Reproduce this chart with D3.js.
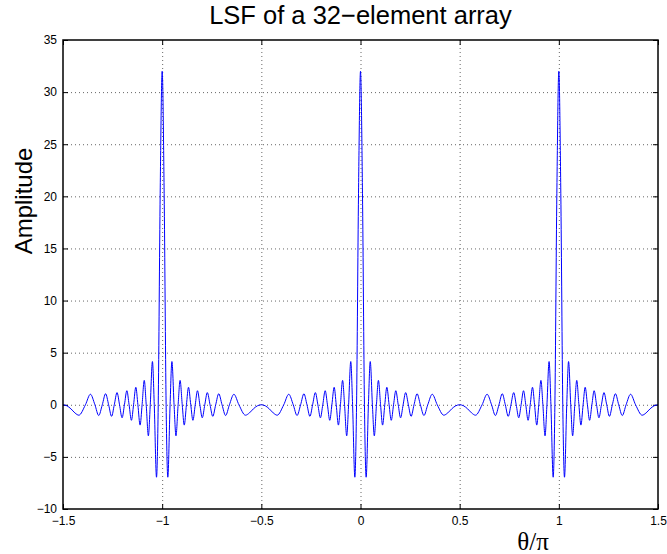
<!DOCTYPE html>
<html>
<head>
<meta charset="utf-8">
<script src="https://cdn.jsdelivr.net/npm/d3@7"></script>
<style>
  body { margin: 0; background: #fff; }
  svg { display: block; }
  .tick text { font-family: "Liberation Sans", Arial, sans-serif; font-size: 12px; fill: #000; }
</style>
</head>
<body>
<div id="chart"></div>
<script>
// ---- data (theta/pi, amplitude)
const thetaOverPi = [
  -1.5, -1.48, -1.46, -1.44, -1.42, -1.3869, -1.3617, -1.3391, -1.3199, -1.3019, -1.2852, -1.2699, -1.255, -1.2414, -1.2276, -1.2149, -1.2021, -1.1902, -1.178, -1.1667, -1.155, -1.1442, -1.1328, -1.1224, -1.1113, -1.1012, -1.0903, -1.0804, -1.0696, -1.06, -1.0491, -1.0399, -1.0285, -1.0199, -1.01, -1,
  -0.99, -0.9801, -0.9715, -0.9601, -0.9509, -0.94, -0.9304, -0.9196, -0.9097, -0.8988, -0.8887, -0.8776, -0.8672, -0.8558, -0.845, -0.8333, -0.822, -0.8098, -0.7979, -0.7851, -0.7724, -0.7586, -0.745, -0.7301, -0.7148, -0.6981, -0.6801, -0.6609, -0.6383, -0.6131, -0.58, -0.56, -0.54, -0.52, -0.5,
  -0.48, -0.46, -0.44, -0.42, -0.3869, -0.3617, -0.3391, -0.3199, -0.3019, -0.2852, -0.2699, -0.255, -0.2414, -0.2276, -0.2149, -0.2021, -0.1902, -0.178, -0.1667, -0.155, -0.1442, -0.1328, -0.1224, -0.1113, -0.1012, -0.0903, -0.0804, -0.0696, -0.06, -0.0491, -0.0399, -0.0285, -0.0199, -0.01, 0,
  0.01, 0.0199, 0.0285, 0.0399, 0.0491, 0.06, 0.0696, 0.0804, 0.0903, 0.1012, 0.1113, 0.1224, 0.1328, 0.1442, 0.155, 0.1667, 0.178, 0.1902, 0.2021, 0.2149, 0.2276, 0.2414, 0.255, 0.2699, 0.2852, 0.3019, 0.3199, 0.3391, 0.3617, 0.3869, 0.42, 0.44, 0.46, 0.48, 0.5,
  0.52, 0.54, 0.56, 0.58, 0.6131, 0.6383, 0.6609, 0.6801, 0.6981, 0.7148, 0.7301, 0.745, 0.7586, 0.7724, 0.7851, 0.7979, 0.8098, 0.822, 0.8333, 0.845, 0.8558, 0.8672, 0.8776, 0.8887, 0.8988, 0.9097, 0.9196, 0.9304, 0.94, 0.9509, 0.9601, 0.9715, 0.9801, 0.99, 1,
  1.01, 1.0199, 1.0285, 1.0399, 1.0491, 1.06, 1.0696, 1.0804, 1.0903, 1.1012, 1.1113, 1.1224, 1.1328, 1.1442, 1.155, 1.1667, 1.178, 1.1902, 1.2021, 1.2149, 1.2276, 1.2414, 1.255, 1.2699, 1.2852, 1.3019, 1.3199, 1.3391, 1.3617, 1.3869, 1.42, 1.44, 1.46, 1.48, 1.5
]

const amplitude = [
  0, -0.10, -0.39, -0.78, -1.00, 0, 1.01, 0, -1.03, 0, 1.06, 0, -1.11, 0, 1.17, 0, -1.25, 0, 1.35, 0, -1.49, 0, 1.68, 0, -1.95, 0, 2.34, 0, -2.98, 0, 4.15, 0, -6.95, 0, 20.3, 32,
  20.3, 0, -6.95, 0, 4.15, 0, -2.98, 0, 2.34, 0, -1.95, 0, 1.68, 0, -1.49, 0, 1.35, 0, -1.25, 0, 1.17, 0, -1.11, 0, 1.06, 0, -1.03, 0, 1.01, 0, -1.00, -0.78, -0.39, -0.10, 0,
  -0.10, -0.39, -0.78, -1.00, 0, 1.01, 0, -1.03, 0, 1.06, 0, -1.11, 0, 1.17, 0, -1.25, 0, 1.35, 0, -1.49, 0, 1.68, 0, -1.95, 0, 2.34, 0, -2.98, 0, 4.15, 0, -6.95, 0, 20.3, 32,
  20.3, 0, -6.95, 0, 4.15, 0, -2.98, 0, 2.34, 0, -1.95, 0, 1.68, 0, -1.49, 0, 1.35, 0, -1.25, 0, 1.17, 0, -1.11, 0, 1.06, 0, -1.03, 0, 1.01, 0, -1.00, -0.78, -0.39, -0.10, 0,
  -0.10, -0.39, -0.78, -1.00, 0, 1.01, 0, -1.03, 0, 1.06, 0, -1.11, 0, 1.17, 0, -1.25, 0, 1.35, 0, -1.49, 0, 1.68, 0, -1.95, 0, 2.34, 0, -2.98, 0, 4.15, 0, -6.95, 0, 20.3, 32,
  20.3, 0, -6.95, 0, 4.15, 0, -2.98, 0, 2.34, 0, -1.95, 0, 1.68, 0, -1.49, 0, 1.35, 0, -1.25, 0, 1.17, 0, -1.11, 0, 1.06, 0, -1.03, 0, 1.01, 0, -1.00, -0.78, -0.39, -0.10, 0
]

const xTicks = [-1.5, -1, -0.5, 0, 0.5, 1, 1.5]
const yTicks = [-10, -5, 0, 5, 10, 15, 20, 25, 30, 35]

// ---- dimensions
const dims = {
  width: 667,
  height: 554,
  margin: { top: 40, right: 9, bottom: 45, left: 63 }
}
dims.boundedWidth = dims.width - dims.margin.left - dims.margin.right
dims.boundedHeight = dims.height - dims.margin.top - dims.margin.bottom

const svg = d3.select("#chart").append("svg")
  .attr("width", dims.width)
  .attr("height", dims.height)

const bounds = svg.append("g")
  .attr("transform", `translate(${dims.margin.left},${dims.margin.top})`)

// ---- scales
const xScale = d3.scaleLinear()
  .domain([-1.5, 1.5])
  .range([0, dims.boundedWidth])

const yScale = d3.scaleLinear()
  .domain([-10, 35])
  .range([dims.boundedHeight, 0])

const fmt = d3.format("~g")

// ---- grid (dotted)
const inner = v => !(v === xScale.domain()[0] || v === xScale.domain()[1])
bounds.append("g")
  .attr("transform", `translate(0,${dims.boundedHeight})`)
  .call(d3.axisBottom(xScale).tickValues(xTicks.filter(inner)).tickSize(-dims.boundedHeight).tickFormat(""))
  .call(g => g.select(".domain").remove())
  .call(g => g.selectAll("line").attr("stroke", "#666").attr("stroke-dasharray", "1,3"))

bounds.append("g")
  .call(d3.axisLeft(yScale).tickValues(yTicks.slice(1, -1)).tickSize(-dims.boundedWidth).tickFormat(""))
  .call(g => g.select(".domain").remove())
  .call(g => g.selectAll("line").attr("stroke", "#666").attr("stroke-dasharray", "1,3"))

// ---- axes, ticks pointing inward
bounds.append("g")
  .attr("transform", `translate(0,${dims.boundedHeight})`)
  .call(d3.axisBottom(xScale).tickValues(xTicks).tickSize(-5).tickPadding(7).tickFormat(fmt))
  .call(g => g.select(".domain").remove())

bounds.append("g")
  .call(d3.axisTop(xScale).tickValues(xTicks).tickSize(-5).tickFormat(""))
  .call(g => g.select(".domain").remove())

bounds.append("g")
  .call(d3.axisLeft(yScale).tickValues(yTicks).tickSize(-5).tickPadding(6).tickFormat(fmt))
  .call(g => g.select(".domain").remove())

bounds.append("g")
  .attr("transform", `translate(${dims.boundedWidth},0)`)
  .call(d3.axisRight(yScale).tickValues(yTicks).tickSize(-5).tickFormat(""))
  .call(g => g.select(".domain").remove())

// ---- line
const lineData = thetaOverPi.map((x, i) => ({ x, y: amplitude[i] }))

const lineGenerator = d3.line()
  .x(d => xScale(d.x))
  .y(d => yScale(d.y))
  .curve(d3.curveMonotoneX)

bounds.append("path")
  .datum(lineData)
  .attr("d", lineGenerator)
  .attr("fill", "none")
  .attr("stroke", "#0000ff")
  .attr("stroke-width", 1)

// ---- box
bounds.append("rect")
  .attr("width", dims.boundedWidth)
  .attr("height", dims.boundedHeight)
  .attr("fill", "none")
  .attr("stroke", "#000")
  .attr("stroke-width", 1.5)

// ---- labels
svg.append("text")
  .attr("x", dims.margin.left + dims.boundedWidth / 2)
  .attr("y", 24)
  .attr("text-anchor", "middle")
  .style("font-family", "'Liberation Sans', Arial, sans-serif")
  .style("font-size", "25.5px")
  .text("LSF of a 32\u2212element array")

svg.append("text")
  .attr("transform", "translate(32,201) rotate(-90)")
  .attr("text-anchor", "middle")
  .style("font-family", "'Liberation Sans', Arial, sans-serif")
  .style("font-size", "24px")
  .text("Amplitude")

svg.append("text")
  .attr("x", 533)
  .attr("y", 550)
  .attr("text-anchor", "middle")
  .style("font-family", "'Liberation Serif', 'Times New Roman', serif")
  .style("font-size", "25px")
  .text("\u03b8/\u03c0")
</script>
</body>
</html>
